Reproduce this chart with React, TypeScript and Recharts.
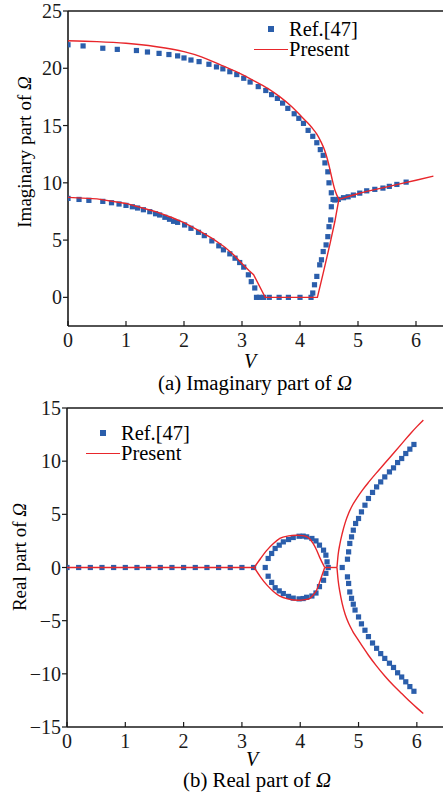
import React from "react";
import { ScatterChart, Scatter, XAxis, YAxis, ReferenceLine } from "recharts";

const BLUE = "#2b5eab";
const RED = "#e8262b";
const INK = "#1a1a1a";
const FONT = "Liberation Serif, DejaVu Serif, serif";

const vTicks = [0, 1, 2, 3, 4, 5, 6];
const imTicks = [0, 5, 10, 15, 20, 25];
const reTicks = [-15, -10, -5, 0, 5, 10, 15];

// (a) imaginary part, Ref.[47] points [V, value]
const imRefUpper = [
  [0, 22.05], [0.26, 21.95], [0.6, 21.75], [0.85, 21.65], [1.18, 21.55], [1.37, 21.42],
  [1.57, 21.3], [1.74, 21.2], [1.89, 21.08], [2.0, 20.9], [2.12, 20.72], [2.26, 20.58],
  [2.43, 20.35], [2.56, 20.12], [2.67, 19.95], [2.79, 19.7], [2.91, 19.45], [3.03, 19.13],
  [3.14, 18.8], [3.28, 18.4], [3.41, 18.06], [3.51, 17.7], [3.61, 17.37], [3.7, 16.96],
  [3.79, 16.5], [3.9, 16.03], [3.98, 15.63], [4.06, 15.19], [4.14, 14.58], [4.22, 14.06],
  [4.29, 13.5], [4.35, 12.9], [4.4, 12.4], [4.43, 11.74], [4.48, 10.96], [4.5, 10.0],
  [4.54, 9.13], [4.57, 8.55],
];
const imRefLower = [
  [0, 8.64], [0.19, 8.55], [0.36, 8.47], [0.6, 8.38], [0.75, 8.26], [0.88, 8.15],
  [1.0, 8.03], [1.11, 7.91], [1.2, 7.8], [1.3, 7.65], [1.41, 7.48], [1.51, 7.3],
  [1.58, 7.19], [1.67, 6.99], [1.75, 6.82], [1.82, 6.64], [1.89, 6.55], [2.01, 6.32],
  [2.12, 6.03], [2.25, 5.68], [2.35, 5.39], [2.48, 4.93], [2.6, 4.5], [2.68, 4.15],
  [2.79, 3.8], [2.88, 3.42], [2.96, 3.04], [3.03, 2.64], [3.11, 1.97], [3.16, 1.37],
  [3.22, 0.82], [3.25, 0], [3.3, 0], [3.37, 0], [3.47, 0], [3.64, 0], [3.8, 0],
  [4.0, 0], [4.19, 0], [4.22, 0.38], [4.25, 1.1], [4.29, 1.83], [4.34, 2.84],
  [4.37, 3.28], [4.4, 4.0], [4.45, 4.58], [4.48, 5.3], [4.5, 6.17], [4.53, 6.76],
  [4.54, 7.91],
];
const imRefMerged = [
  [4.6, 8.5], [4.66, 8.55], [4.75, 8.7], [4.83, 8.78], [4.92, 8.93], [5.03, 9.1],
  [5.15, 9.3], [5.29, 9.43], [5.43, 9.54], [5.54, 9.69], [5.67, 9.86], [5.83, 10.06],
];

// (a) Present
const imPresentUpper = [
  [0, 22.4], [0.5, 22.33], [1.0, 22.18], [1.5, 21.9], [2.0, 21.45], [2.3, 21.0],
  [2.62, 20.32], [2.9, 19.7], [3.2, 18.93], [3.45, 18.22], [3.66, 17.48], [3.85, 16.68],
  [4.0, 15.92], [4.1, 15.4], [4.2, 14.85], [4.29, 14.25], [4.36, 13.6], [4.42, 12.9],
  [4.47, 12.1], [4.51, 11.3], [4.55, 10.4], [4.6, 9.4], [4.67, 8.55],
];
const imPresentLower = [
  [0, 8.73], [0.5, 8.6], [1.0, 8.2], [1.5, 7.5], [1.8, 6.95], [2.0, 6.52], [2.25, 5.85],
  [2.5, 5.1], [2.7, 4.4], [2.85, 3.75], [3.02, 2.85], [3.12, 2.35], [3.2, 1.97], [3.4, 0],
  [4.3, 0], [4.4, 2.12], [4.52, 4.73], [4.6, 6.6], [4.67, 8.55],
];
const imPresentMerged = [[4.67, 8.55], [5.0, 9.05], [5.5, 9.65], [6.0, 10.22], [6.3, 10.58]];

// (b) real part, Ref.[47]
const reRefFlat = [
  [0, 0], [0.2, 0], [0.4, 0], [0.6, 0], [0.8, 0], [1.0, 0], [1.2, 0], [1.4, 0], [1.6, 0],
  [1.8, 0], [2.0, 0], [2.2, 0], [2.4, 0], [2.6, 0], [2.8, 0], [3.0, 0], [3.2, 0],
];
const reRefLoopUp = [
  [3.4, 0], [3.45, 0.85], [3.51, 1.32], [3.57, 1.79], [3.64, 2.1], [3.71, 2.41],
  [3.8, 2.63], [3.88, 2.82], [3.98, 2.94], [4.05, 2.95], [4.11, 2.88], [4.2, 2.73],
  [4.27, 2.5], [4.33, 2.1], [4.4, 1.63], [4.44, 1.16], [4.46, 0.53], [4.48, 0],
];
const reRefLoopDown = [
  [3.45, -0.82], [3.51, -1.4], [3.57, -1.9], [3.64, -2.2], [3.71, -2.45], [3.8, -2.72],
  [3.88, -2.88], [3.98, -2.95], [4.05, -2.92], [4.11, -2.8], [4.2, -2.68], [4.27, -2.4],
  [4.33, -1.8], [4.4, -1.2], [4.44, -0.55],
];
const reRefRightUp = [
  [4.72, 0], [4.81, 0.78], [4.83, 1.47], [4.85, 2.26], [4.88, 2.88], [4.91, 3.51],
  [4.95, 4.14], [5.0, 4.61], [5.05, 5.23], [5.11, 5.86], [5.17, 6.49], [5.24, 7.06],
  [5.31, 7.58], [5.38, 8.05], [5.45, 8.52], [5.53, 8.99], [5.6, 9.37], [5.67, 9.87],
  [5.74, 10.25], [5.81, 10.72], [5.88, 11.13], [5.95, 11.57],
];
const reRefRightDown = [
  [4.81, -0.88], [4.83, -1.5], [4.85, -2.3], [4.88, -2.9], [4.91, -3.45], [4.94, -4.0],
  [5.0, -4.65], [5.05, -5.3], [5.11, -5.9], [5.17, -6.5], [5.24, -7.1], [5.31, -7.6],
  [5.38, -8.1], [5.45, -8.55], [5.53, -9.0], [5.6, -9.4], [5.67, -9.9], [5.74, -10.3],
  [5.81, -10.75], [5.88, -11.2], [5.95, -11.64],
];

// (b) Present
const rePresentFlat = [[0, 0], [3.21, 0]];
const rePresentLoopUp = [
  [3.21, 0], [3.32, 0.85], [3.43, 1.63], [3.54, 2.25], [3.65, 2.73], [3.8, 2.97],
  [3.94, 3.04], [4.04, 3.0], [4.11, 2.9], [4.17, 2.65], [4.22, 2.26], [4.28, 1.65],
  [4.33, 1.0], [4.42, 0],
];
const rePresentLoopDown = [
  [3.21, 0], [3.32, -0.9], [3.43, -1.66], [3.54, -2.25], [3.65, -2.7], [3.8, -2.97],
  [3.97, -3.08], [4.08, -3.02], [4.16, -2.92], [4.22, -2.6], [4.28, -2.14], [4.35, -1.1],
  [4.42, 0],
];
const rePresentMid = [[4.42, 0], [4.63, 0]];
const rePresentRightUp = [
  [4.63, 0], [4.65, 1.2], [4.68, 2.2], [4.72, 3.2], [4.77, 4.2], [4.83, 5.1],
  [4.9, 5.9], [4.98, 6.6], [5.07, 7.3], [5.17, 8.0], [5.3, 8.85], [5.45, 9.8],
  [5.6, 10.75], [5.75, 11.7], [5.9, 12.65], [6.0, 13.25], [6.11, 13.86],
];
const rePresentRightDown = [
  [4.63, 0], [4.65, -1.2], [4.68, -2.3], [4.72, -3.4], [4.77, -4.4], [4.83, -5.25],
  [4.9, -6.0], [4.98, -6.7], [5.07, -7.45], [5.17, -8.25], [5.3, -9.2], [5.45, -10.2],
  [5.6, -11.1], [5.75, -11.9], [5.9, -12.7], [6.0, -13.2], [6.11, -13.73],
];

const toPts = (arr: number[][]) => arr.map(([v, w]) => ({ v, w }));

const Square = (props: any) => (
  <rect x={props.cx - 2.6} y={props.cy - 2.6} width={5.2} height={5.2} fill={BLUE} />
);
const NoDot = () => <g />;

const tickStyle = { fill: INK, fontSize: 20, fontFamily: FONT };
const minus = (n: number) => String(n).replace("-", "\u2212");

function refSeries(arrs: number[][][]) {
  return arrs.map((a, i) => (
    <Scatter key={"r" + i} data={toPts(a)} shape={Square} isAnimationActive={false} />
  ));
}
// smooth curves get monotoneX, the ones with sharp corners stay linear
function presentSeries(arrs: [number[][], boolean][]) {
  return arrs.map(([a, smooth], i) => (
    <Scatter
      key={"p" + i}
      data={toPts(a)}
      shape={NoDot}
      line={{ stroke: RED, strokeWidth: 1.4 }}
      lineJointType={smooth ? "monotoneX" : "linear"}
      isAnimationActive={false}
    />
  ));
}

const txt: React.CSSProperties = {
  position: "absolute",
  fontFamily: FONT,
  color: "#000",
  whiteSpace: "nowrap",
  lineHeight: "20px",
};

function Legend({ x, y }: { x: number; y: number }) {
  // x,y = marker centre
  return (
    <>
      <div style={{ position: "absolute", left: x - 2.6, top: y - 2.6, width: 5.2, height: 5.2, background: BLUE }} />
      <div style={{ ...txt, left: x + 18, top: y - 10, fontSize: 20.5 }}>Ref.[47]</div>
      <div style={{ position: "absolute", left: x - 17, top: y + 20, width: 34, height: 1.4, background: RED }} />
      <div style={{ ...txt, left: x + 18, top: y + 10, fontSize: 20.5 }}>Present</div>
    </>
  );
}

function Centered({ x, y, rotate, size, children }: any) {
  return (
    <div
      style={{
        ...txt,
        left: x,
        top: y,
        fontSize: size,
        transform: `translate(-50%, -50%)${rotate ? " rotate(-90deg)" : ""}`,
      }}
    >
      {children}
    </div>
  );
}

export default function App() {
  return (
    <div style={{ position: "fixed", left: 0, top: 0, width: 443, height: 793, overflow: "hidden", background: "#fff" }}>
      <div style={{ position: "absolute", left: 0, top: 0 }}>
        <ScatterChart width={460} height={400} margin={{ top: 11, right: 15, left: 0, bottom: 0 }}>
          <XAxis
            dataKey="v"
            type="number"
            domain={[0, 6.5]}
            ticks={vTicks}
            allowDataOverflow
            interval={0}
            height={74}
            axisLine={{ stroke: INK, strokeWidth: 1.6 }}
            tickLine={{ stroke: INK, strokeWidth: 1.2 }}
            tickSize={-5}
            tickMargin={12}
            tick={tickStyle}
          />
          <YAxis
            dataKey="w"
            type="number"
            domain={[-2.5, 25]}
            ticks={imTicks}
            allowDataOverflow
            interval={0}
            width={68}
            axisLine={{ stroke: INK, strokeWidth: 1.6 }}
            tickLine={{ stroke: INK, strokeWidth: 1.2 }}
            tickSize={5}
            tickMargin={1}
            tick={tickStyle}
          />
          <ReferenceLine y={25} stroke={INK} strokeWidth={1.6} ifOverflow="visible" />
          {refSeries([imRefUpper, imRefLower, imRefMerged])}
          {presentSeries([
            [imPresentUpper, true],
            [imPresentLower, false],
            [imPresentMerged, true],
          ])}
        </ScatterChart>
      </div>

      <div style={{ position: "absolute", left: 0, top: 390 }}>
        <ScatterChart width={461} height={403} margin={{ top: 18, right: 15, left: 0, bottom: 0 }}>
          <XAxis
            dataKey="v"
            type="number"
            domain={[0, 6.5]}
            ticks={vTicks}
            allowDataOverflow
            interval={0}
            height={66}
            axisLine={{ stroke: INK, strokeWidth: 1.6 }}
            tickLine={{ stroke: INK, strokeWidth: 1.2 }}
            tickSize={-5}
            tickMargin={12}
            tick={tickStyle}
          />
          <YAxis
            dataKey="w"
            type="number"
            domain={[-15, 15]}
            ticks={reTicks}
            allowDataOverflow
            interval={0}
            width={67}
            axisLine={{ stroke: INK, strokeWidth: 1.6 }}
            tickLine={{ stroke: INK, strokeWidth: 1.2 }}
            tickSize={5}
            tickMargin={1}
            tick={tickStyle}
            tickFormatter={minus}
          />
          <ReferenceLine y={15} stroke={INK} strokeWidth={1.6} ifOverflow="visible" />
          {refSeries([reRefFlat, reRefLoopUp, reRefLoopDown, reRefRightUp, reRefRightDown])}
          {presentSeries([
            [rePresentFlat, false],
            [rePresentLoopUp, true],
            [rePresentLoopDown, true],
            [rePresentMid, false],
            [rePresentRightUp, true],
            [rePresentRightDown, true],
          ])}
        </ScatterChart>
      </div>

      <Legend x={271} y={29} />
      <Legend x={103} y={433} />

      <Centered x={25} y={152} size={19} rotate>
        Imaginary part of <i>Ω</i>
      </Centered>
      <Centered x={250} y={361} size={20}>
        <i>V</i>
      </Centered>
      <Centered x={255} y={383} size={20.8}>
        (a) Imaginary part of <i>Ω</i>
      </Centered>

      <Centered x={20} y={557} size={19} rotate>
        Real part of <i>Ω</i>
      </Centered>
      <Centered x={252} y={759} size={20}>
        <i>V</i>
      </Centered>
      <Centered x={257} y={780} size={20.8}>
        (b) Real part of <i>Ω</i>
      </Centered>
    </div>
  );
}
